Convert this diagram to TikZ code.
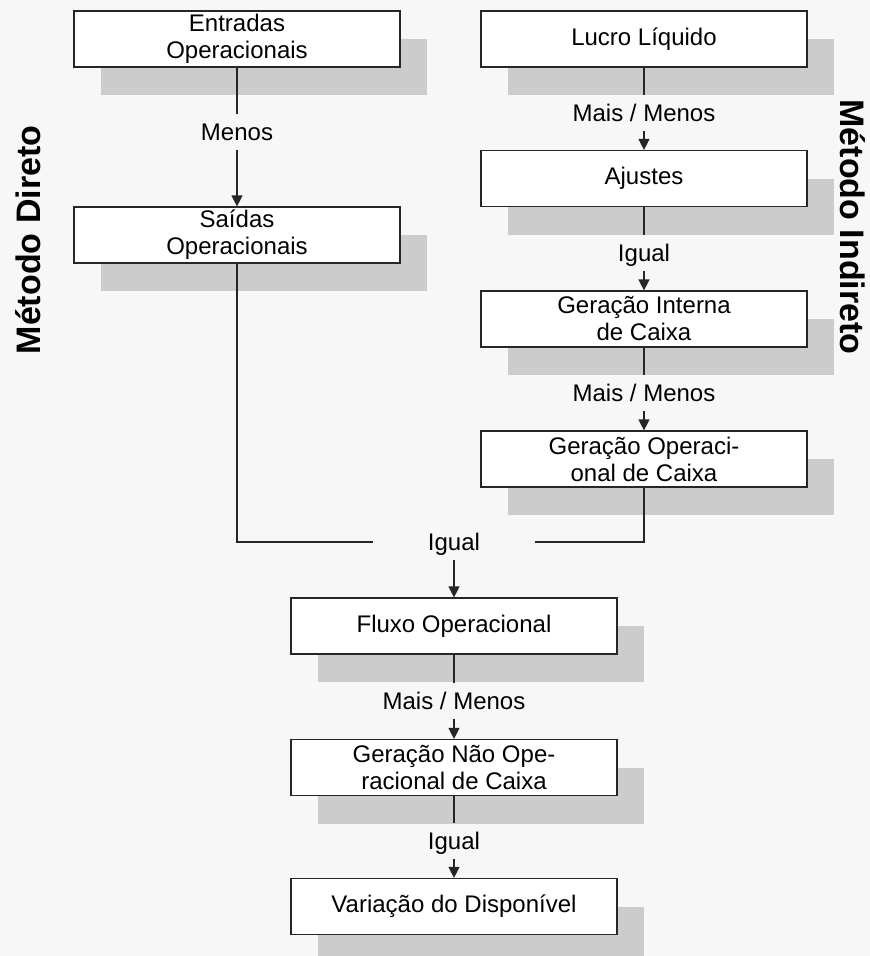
\documentclass[tikz,border=0pt]{standalone}
\usepackage{fontspec}
\setmainfont{Liberation Sans}
\usetikzlibrary{arrows.meta,shadows}
\begin{document}
\begin{tikzpicture}[x=1pt,y=-1pt,
 box/.style={draw=black!85, line width=1.2pt, fill=white, minimum width=326pt, minimum height=56pt, inner sep=0pt, align=center, font=\fontsize{24}{27}\selectfont, text=black, drop shadow={shadow xshift=27pt, shadow yshift=-28pt, fill=black!20, opacity=1}},
 lbl/.style={font=\fontsize{24}{27}\selectfont, text=black, text height=17pt, text depth=0pt, inner xsep=2pt, inner ysep=9pt},
 conn/.style={draw=black!85, line width=1.2pt},
 arr/.style={conn, -{Triangle[length=11pt,width=11pt]}},
 side/.style={font=\fontsize{34}{40}\selectfont\bfseries, text=black, anchor=base}]
\fill[black!3] (0,0) rectangle (870,956);
\useasboundingbox (0,0) rectangle (870,956);
% boxes
\node[box] (ent) at (237,39) {Entradas\\Operacionais};
\node[box] (sai) at (237,235) {Saídas\\Operacionais};
\node[box] (luc) at (644,39) {Lucro Líquido};
\node[box] (aju) at (644,178.5) {Ajustes};
\node[box] (gin) at (644,319) {Geração Interna\\de Caixa};
\node[box] (gop) at (644,459) {Geração Operaci-\\onal de Caixa};
\node[box] (flu) at (454,626) {Fluxo Operacional};
\node[box] (gno) at (454,767.5) {Geração Não Ope-\\racional de Caixa};
\node[box] (var) at (454,906.5) {Variação do Disponível};
% labels
\node[lbl] (la) at (237,132) {Menos};
\node[lbl] (lb) at (644,113) {Mais / Menos};
\node[lbl] (lc) at (644,253) {Igual};
\node[lbl] (ld) at (644,393) {Mais / Menos};
\node[lbl, inner xsep=55pt] (le) at (454,542) {Igual};
\node[lbl] (lf) at (454,701) {Mais / Menos};
\node[lbl] (lg) at (454,841) {Igual};
% side titles
\node[side, rotate=90] (sd) at (40,240) {Método Direto};
\node[side, rotate=-90] (si) at (840,227) {Método Indireto};
% connectors
\draw[conn] (ent) -- (la);
\draw[arr] (la) -- (sai);
\draw[conn] (luc) -- (lb);
\draw[arr] (lb) -- (aju);
\draw[conn] (aju) -- (lc);
\draw[arr] (lc) -- (gin);
\draw[conn] (gin) -- (ld);
\draw[arr] (ld) -- (gop);
\draw[conn] (sai.south) |- (le.west);
\draw[conn] (gop.south) |- (le.east);
\draw[arr] (le) -- (flu);
\draw[conn] (flu) -- (lf);
\draw[arr] (lf) -- (gno);
\draw[conn] (gno) -- (lg);
\draw[arr] (lg) -- (var);
\end{tikzpicture}
\end{document}
